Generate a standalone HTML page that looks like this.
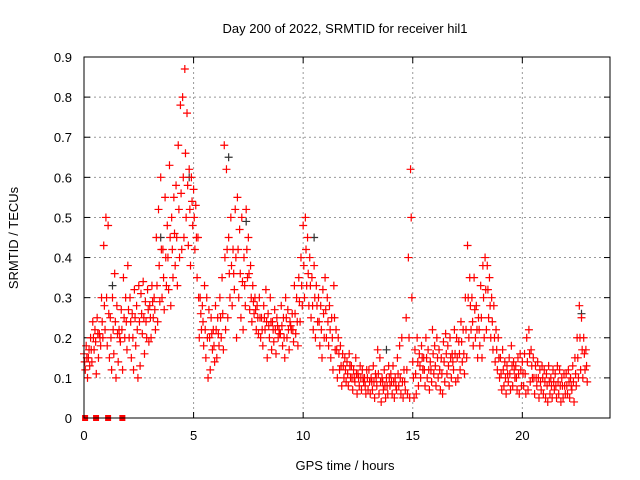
<!DOCTYPE html>
<html><head><meta charset="utf-8"><style>
body{margin:0;background:#fff}
svg{display:block;font-family:"Liberation Sans",sans-serif}
</style></head><body>
<svg id="chart" width="640" height="480">
<rect width="640" height="480" fill="#fff"/>
<g id="grid"></g>
<g id="ticks"></g>
<g id="pts"></g>
<rect x="84" y="57" width="526" height="361" fill="none" stroke="#000" stroke-width="1"/>
<text x="345" y="33" font-size="13" text-anchor="middle">Day 200 of 2022, SRMTID for receiver hil1</text>
<text x="345" y="470" font-size="13" text-anchor="middle">GPS time / hours</text>
<text transform="translate(18,238) rotate(-90)" font-size="13" text-anchor="middle">SRMTID / TECUs</text>
</svg>
<script>
const xTicks=[0,5,10,15,20];
const yTicks=[0,0.1,0.2,0.3,0.4,0.5,0.6,0.7,0.8,0.9];
const yTickLabels=["0","0.1","0.2","0.3","0.4","0.5","0.6","0.7","0.8","0.9"];
const tStart=0, tStep=0.1;
const seriesUpper=[.16,.18,.15,.2,.24,.22,.25,.21,.3,.43,
.5,.48,.25,.3,.36,.28,.22,.27,.35,.3,
.38,.3,.26,.32,.28,.33,.31,.34,.29,.32,
.28,.33,.3,.45,.52,.6,.42,.55,.48,.63,
.5,.55,.58,.68,.78,.8,.87,.76,.62,.6,
.57,.53,.45,.3,.28,.33,.3,.27,.25,.22,
.28,.25,.3,.35,.68,.62,.45,.5,.42,.52,
.55,.47,.5,.4,.52,.45,.38,.33,.3,.28,
.3,.25,.28,.32,.26,.3,.24,.27,.25,.22,
.28,.25,.3,.27,.24,.26,.33,.3,.35,.4,
.48,.5,.45,.4,.35,.38,.33,.3,.28,.32,
.35,.3,.28,.25,.33,.22,.2,.18,.16,.15,
.14,.16,.13,.12,.15,.11,.13,.12,.1,.12,
.12,.1,.13,.11,.17,.15,.1,.12,.1,.13,
.11,.13,.1,.15,.18,.2,.12,.25,.4,.62,
.14,.17,.2,.16,.18,.15,.2,.17,.14,.22,
.18,.2,.17,.15,.19,.21,.18,.2,.16,.22,
.2,.19,.24,.22,.3,.43,.35,.3,.35,.28,
.25,.33,.38,.4,.38,.35,.3,.28,.22,.2,
.15,.17,.14,.13,.15,.18,.14,.13,.15,.16,
.14,.16,.2,.22,.17,.15,.13,.14,.12,.13,
.12,.11,.13,.1,.12,.11,.13,.12,.1,.11,
.11,.12,.1,.13,.15,.2,.28,.25,.2,.17];
const seriesMid=[.14,.15,.17,.17,.2,.19,.21,.2,.24,.28,
.3,.26,.2,.22,.24,.21,.2,.22,.25,.24,
.27,.24,.2,.25,.22,.24,.26,.25,.24,.27,
.25,.29,.27,.33,.38,.42,.35,.4,.4,.45,
.42,.46,.45,.52,.56,.6,.66,.58,.52,.54,
.5,.45,.3,.26,.24,.22,.2,.2,.21,.18,
.22,.21,.25,.26,.4,.42,.36,.38,.36,.4,
.42,.36,.34,.33,.42,.36,.3,.29,.27,.25,
.25,.22,.25,.24,.23,.24,.22,.22,.23,.21,
.23,.2,.25,.22,.23,.22,.26,.24,.29,.33,
.38,.42,.36,.33,.28,.3,.28,.24,.22,.26,
.27,.24,.22,.2,.25,.17,.16,.13,.13,.12,
.11,.13,.1,.1,.11,.1,.1,.1,.08,.1,
.09,.09,.09,.1,.11,.09,.09,.08,.08,.1,
.09,.09,.08,.11,.1,.09,.09,.12,.2,.5,
.1,.11,.14,.13,.15,.12,.15,.12,.12,.16,
.13,.15,.12,.11,.14,.16,.13,.15,.14,.16,
.15,.16,.19,.16,.22,.3,.28,.24,.27,.22,
.22,.25,.3,.32,.32,.28,.24,.2,.17,.15,
.11,.12,.1,.11,.11,.13,.12,.1,.11,.12,
.11,.11,.14,.16,.13,.1,.1,.1,.09,.1,
.09,.08,.09,.08,.09,.08,.09,.08,.08,.08,
.08,.09,.08,.09,.11,.15,.2,.17,.16,.13];
const seriesLower=[.12,.1,.13,.14,.17,.11,.15,.18,.2,.22,
.18,.15,.12,.16,.1,.14,.19,.12,.2,.17,
.2,.15,.12,.18,.1,.13,.21,.16,.2,.19,
.2,.25,.22,.24,.29,.3,.27,.33,.32,.28,
.35,.38,.33,.4,.42,.45,.5,.43,.38,.48,
.42,.35,.2,.22,.18,.15,.1,.12,.17,.14,
.15,.18,.2,.17,.22,.25,.3,.28,.32,.2,
.3,.25,.22,.28,.35,.27,.24,.26,.22,.21,
.2,.18,.22,.15,.2,.17,.19,.16,.2,.21,
.18,.15,.2,.17,.22,.19,.21,.18,.24,.28,
.3,.33,.28,.25,.22,.2,.24,.18,.15,.2,
.2,.18,.15,.12,.17,.1,.12,.08,.1,.09,
.08,.1,.07,.09,.06,.08,.07,.09,.06,.07,
.06,.07,.05,.08,.06,.04,.07,.05,.06,.08,
.06,.05,.07,.08,.06,.05,.07,.06,.05,.3,
.05,.06,.08,.1,.12,.08,.1,.07,.09,.11,
.08,.1,.07,.06,.09,.11,.08,.1,.12,.09,
.1,.12,.14,.11,.15,.2,.22,.18,.2,.15,
.18,.15,.2,.22,.25,.2,.17,.14,.12,.1,
.07,.08,.06,.09,.07,.08,.1,.07,.06,.08,
.08,.06,.07,.09,.1,.06,.08,.05,.07,.06,
.05,.04,.06,.05,.07,.05,.06,.04,.05,.06,
.06,.05,.07,.04,.08,.1,.12,.1,.12,.09];
const zeroTimes=[0.05,0.55,1.1,1.75];
const grayTimes=[1.3,3.5,4.8,6.6,7.4,10.5,13.8,22.7];
const grayValues=[.33,.45,.6,.65,.49,.45,.17,.26];

const X0=84,X1=610,Y0=418,Y1=57,XMAX=24,YMAX=0.9;
function xs(t){return X0+(X1-X0)*t/XMAX;}
function ys(v){return Y0-(Y0-Y1)*v/YMAX;}
const NS="http://www.w3.org/2000/svg";
function mk(tag,at,parent){const e=document.createElementNS(NS,tag);for(const k in at)e.setAttribute(k,at[k]);parent.appendChild(e);return e;}
const grid=document.getElementById('grid'),ticks=document.getElementById('ticks'),pts=document.getElementById('pts');
yTicks.forEach((v,i)=>{
  const y=ys(v);
  if(i>0){
    const g=mk('line',{x1:X0,x2:X1,y1:y,y2:y,stroke:'#999','stroke-dasharray':'2,3'},grid);
    
    
  }
  const t1=mk('line',{x1:X0,x2:X0+6,y1:y,y2:y,stroke:'#000'},ticks);
  
  
  const t2=mk('line',{x1:X1-6,x2:X1,y1:y,y2:y,stroke:'#000'},ticks);
  
  
  const lb=mk('text',{x:X0-12,y:y+5,'font-size':13,'text-anchor':'end'},ticks);
  lb.textContent=yTickLabels[i];
  
  
});
xTicks.forEach(t=>{
  const x=xs(t);
  if(t>0){
    const g=mk('line',{x1:x,x2:x,y1:Y1,y2:Y0,stroke:'#999','stroke-dasharray':'2,3'},grid);
    
    
  }
  const t1=mk('line',{x1:x,x2:x,y1:Y0-6,y2:Y0,stroke:'#000'},ticks);
  
  
  const t2=mk('line',{x1:x,x2:x,y1:Y1,y2:Y1+6,stroke:'#000'},ticks);
  
  
  const lb=mk('text',{x:x,y:Y0+22,'font-size':13,'text-anchor':'middle'},ticks);
  lb.textContent=String(t);
  
  
});
function cross(t,v,color,name){
  const x=xs(t),y=ys(v);
  const p=mk('path',{d:`M${x-4} ${y}H${x+4}M${x} ${y-4}V${y+4}`,stroke:color,'stroke-width':1.2,fill:'none'},pts);
  
  
}
grayTimes.forEach((t,i)=>cross(t,grayValues[i],'#333','gray-point'));
seriesUpper.forEach((v,i)=>cross(tStart+i*tStep,v,'#f00','srmtid-point'));
seriesMid.forEach((v,i)=>cross(tStart+i*tStep+0.03,v,'#f00','srmtid-point'));
seriesLower.forEach((v,i)=>cross(tStart+i*tStep+0.06,v,'#f00','srmtid-point'));
zeroTimes.forEach(t=>{
  const r=mk('rect',{x:xs(t)-3,y:Y0-3,width:6,height:6,fill:'#f00'},pts);
  
  
});
</script>
</body></html>
